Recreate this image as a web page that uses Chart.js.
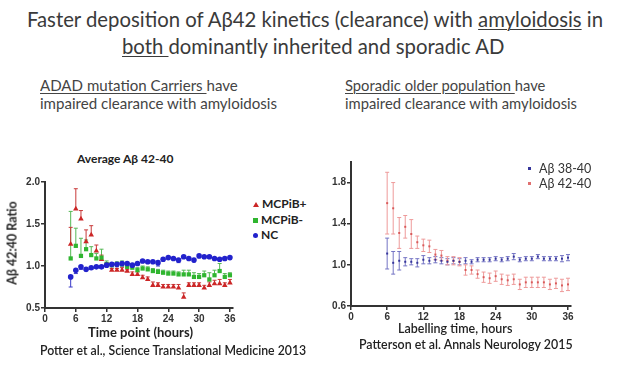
<!DOCTYPE html>
<html><head><meta charset="utf-8">
<script src="https://cdn.jsdelivr.net/npm/chart.js@4.4.1/dist/chart.umd.min.js"></script>
<style>
html,body{margin:0;padding:0;background:#fff;}
body{width:627px;height:366px;position:relative;overflow:hidden;}
.t{position:absolute;white-space:nowrap;color:#333;transform-origin:left top;}
.h{font-family:Lato,"Open Sans",sans-serif;font-size:21px;line-height:21px;color:#3a3a3a;}
.s{font-family:Lato,"Open Sans",sans-serif;font-size:15px;line-height:15px;color:#444;}
.b{font-family:Lato,"Open Sans",sans-serif;font-weight:700;color:#222;}
u{text-decoration-thickness:1px;text-underline-offset:2px;}
canvas{position:absolute;}
.lg{position:absolute;font-family:Lato,sans-serif;white-space:nowrap;}
</style>
</head><body>
<div class="t h" id="h1" style="left:27px;top:8px;">Faster deposition of Aβ42 kinetics (clearance) with <u>amyloidosis</u> in</div>
<div class="t h" id="h2" style="left:122px;top:35px;"><u>both </u>dominantly inherited and sporadic AD</div>
<div class="t s" id="s1" style="left:40px;top:78px;"><u>ADAD mutation Carriers </u>have</div>
<div class="t s" id="s2" style="left:40px;top:96px;">impaired clearance with amyloidosis</div>
<div class="t s" id="s3" style="left:345px;top:78px;"><u>Sporadic older population </u>have</div>
<div class="t s" id="s4" style="left:345px;top:96px;">impaired clearance with amyloidosis</div>

<canvas id="c1" width="240" height="160" style="left:0;top:170px;"></canvas>
<canvas id="c2" width="256" height="178" style="left:320px;top:150px;"></canvas>

<div class="t b" style="left:77px;top:151px;font-size:12px;">Average Aβ 42-40</div>
<div class="t b" style="left:12px;top:243px;font-size:12.5px;transform:translate(-50%,-50%) rotate(-90deg);transform-origin:center;">Aβ 42:40 Ratio</div>
<div class="t b" style="left:88px;top:324px;font-size:13px;">Time point (hours)</div>
<div class="t b" style="left:40px;top:343px;font-size:12.3px;font-weight:600;">Potter et al., Science Translational Medicine 2013</div>
<div class="t b" style="left:398px;top:321px;font-size:12.5px;font-weight:600;">Labelling time, hours</div>
<div class="t b" style="left:359px;top:337px;font-size:12.4px;font-weight:600;">Patterson et al. Annals Neurology 2015</div>

<div class="lg" style="left:253px;top:196px;font-size:12px;font-weight:700;color:#222;line-height:15.5px;">
<div><span style="display:inline-block;width:0;height:0;border-left:3px solid transparent;border-right:3px solid transparent;border-bottom:5px solid #cc2626;margin-right:3px;vertical-align:1px;"></span>MCPiB+</div>
<div><span style="display:inline-block;width:5px;height:5px;background:#2fb52f;margin-right:3px;vertical-align:1px;"></span>MCPiB-</div>
<div><span style="display:inline-block;width:5px;height:5px;border-radius:50%;background:#2222cc;margin-right:3px;vertical-align:1px;"></span>NC</div>
</div>
<div class="lg" style="left:528px;top:161px;font-size:12.5px;color:#333;line-height:15px;">
<div><span style="display:inline-block;width:3px;height:3px;background:#35359a;margin-right:8px;vertical-align:3px;"></span>Aβ 38-40</div>
<div><span style="display:inline-block;width:3px;height:3px;background:#e07070;margin-right:8px;vertical-align:3px;"></span>Aβ 42-40</div>
</div>

<script>
// ---------- data ----------
const hoursLeft = [5,6,7,8,9,10,11,12,13,14,15,16,17,18,19,20,21,22,23,24,25,26,27,28,29,30,31,32,33,34,35,36];
const mcpibPlus = [1.26,1.68,1.56,1.29,1.37,1.18,1.08,1.01,0.95,0.95,0.95,0.94,0.90,0.90,0.86,0.84,0.77,0.77,0.75,0.75,0.75,0.74,0.63,0.77,0.77,0.77,0.74,0.77,0.79,0.79,0.77,0.80];
const mcpibPlusErr = [0.20,0.24,0.10,0.14,0.11,0.07,0.05,0.03,0.02,0.02,0.03,0.02,0.03,0.03,0.03,0.03,0.04,0.03,0.03,0.03,0.03,0.04,0.05,0.03,0.03,0.03,0.03,0.04,0.04,0.05,0.03,0.04];
const mcpibMinus = [1.09,1.24,1.12,1.20,1.13,1.09,1.10,1.02,1.01,1.02,1.02,0.99,0.98,0.95,0.97,0.96,0.94,0.93,0.92,0.91,0.91,0.90,0.90,0.90,0.87,0.87,0.89,0.84,0.89,0.94,0.87,0.89];
const mcpibMinusErr = [0.56,0.21,0.21,0.11,0.10,0.06,0.10,0.04,0.03,0.03,0.04,0.03,0.03,0.03,0.03,0.03,0.03,0.03,0.03,0.03,0.03,0.03,0.05,0.05,0.05,0.04,0.05,0.08,0.06,0.09,0.04,0.03];
const ncValues = [0.87,0.95,0.99,0.96,0.98,0.99,0.99,1.01,1.02,1.02,1.03,1.03,1.01,1.03,1.06,1.05,1.05,1.04,1.08,1.10,1.09,1.07,1.11,1.09,1.07,1.12,1.11,1.11,1.09,1.08,1.09,1.10];
const ncErr = [0.12,0.04,0.03,0.02,0.02,0.02,0.02,0.02,0.03,0.03,0.03,0.02,0.02,0.02,0.02,0.02,0.02,0.04,0.02,0.02,0.02,0.03,0.02,0.02,0.02,0.02,0.02,0.02,0.02,0.02,0.02,0.02];

const hoursRight = [6,7,8,9,10,11,12,13,14,15,16,17,18,19,20,21,22,23,24,25,26,27,28,29,30,31,32,33,34,35,36];
const ab4240 = [1.60,1.55,1.31,1.37,1.30,1.22,1.19,1.18,1.10,1.09,1.04,1.04,1.03,0.95,0.95,0.91,0.88,0.87,0.89,0.86,0.85,0.86,0.81,0.83,0.83,0.83,0.83,0.81,0.82,0.80,0.81];
const ab4240Err = [0.30,0.25,0.15,0.11,0.14,0.06,0.06,0.06,0.05,0.05,0.04,0.04,0.04,0.05,0.04,0.04,0.05,0.05,0.05,0.05,0.05,0.05,0.05,0.05,0.05,0.05,0.05,0.05,0.05,0.06,0.06];
const ab3840 = [1.11,1.02,1.04,1.03,1.03,1.02,1.05,1.04,1.05,1.04,1.03,1.04,1.03,1.04,1.03,1.05,1.05,1.05,1.06,1.05,1.06,1.08,1.05,1.06,1.06,1.08,1.06,1.06,1.06,1.06,1.07];
const ab3840Err = [0.15,0.11,0.09,0.04,0.03,0.04,0.04,0.03,0.03,0.03,0.03,0.03,0.03,0.03,0.02,0.02,0.02,0.02,0.02,0.02,0.02,0.03,0.02,0.02,0.02,0.02,0.02,0.02,0.02,0.03,0.03];

const xTickValues = [0,6,12,18,24,30,36];
const yTicksLeft = [0.5,1.0,1.5,2.0];
const yTicksRight = [0.6,1.0,1.4,1.8];

// ---------- text fitting ----------
function fit(ids, target){
  const els = ids.map(i=>document.getElementById(i));
  const w = els[0].getBoundingClientRect().width;
  const k = target / w;
  els.forEach(e=>e.style.transform='scaleX('+k+')');
}
fit(['h1','h2'], 576);
fit(['s2','s1'], 237);
fit(['s4','s3'], 232);

// ---------- error bar plugin ----------
const errorBars = {
  id:'errorBars',
  beforeDatasetsDraw(chart){
    const {ctx, scales:{x,y}} = chart;
    chart.data.datasets.forEach(ds=>{
      if(!ds.errors) return;
      ctx.save();
      ctx.strokeStyle = ds.errorColor; ctx.lineWidth = ds.errorWidth || 1;
      ds.data.forEach((p,j)=>{
        const e = ds.errors[j];
        const px = x.getPixelForValue(p.x);
        const y0 = y.getPixelForValue(p.y);
        const dirs = ds.errorDir==='both' ? [1,-1] : [ds.errorDir==='up'?1:-1];
        dirs.forEach(d=>{
          const y1 = y.getPixelForValue(p.y + d*e);
          ctx.beginPath();
          ctx.moveTo(px,y0); ctx.lineTo(px,y1);
          ctx.moveTo(px-ds.capW,y1); ctx.lineTo(px+ds.capW,y1);
          ctx.stroke();
        });
      });
      ctx.restore();
    });
  }
};

function pts(xs, ys){ return xs.map((h,i)=>({x:h,y:ys[i]})); }

function axes(xMax, yMin, yMax, yTicks, yWidth){
  const common = {
    grid:{display:true,drawOnChartArea:false,drawTicks:true,tickLength:4,color:'#333',lineWidth:1.5},
    border:{display:true,color:'#333',width:2},
  };
  return {
    x:{type:'linear',min:0,max:xMax,...common,
       afterBuildTicks:s=>{s.ticks=xTickValues.map(v=>({value:v}));},
       afterFit:s=>{s.height=22;},
       ticks:{autoSkip:false,maxRotation:0,padding:1,color:'#333',font:{family:'Liberation Sans',weight:'bold',size:10}}},
    y:{type:'linear',min:yMin,max:yMax,...common,
       afterBuildTicks:s=>{s.ticks=yTicks.map(v=>({value:v}));},
       afterFit:s=>{s.width=yWidth;},
       ticks:{padding:1,color:'#333',font:{family:'Liberation Sans',weight:'bold',size:10},callback:v=>Number(v).toFixed(1)}}
  };
}

const baseOpts = {responsive:false,animation:false,devicePixelRatio:1,
  plugins:{legend:{display:false},tooltip:{enabled:false}}};

new Chart(document.getElementById('c1'),{
  type:'scatter',
  data:{datasets:[
    {label:'NC',data:pts(hoursLeft,ncValues),errors:ncErr,errorDir:'down',errorColor:'#3b3bc8',capW:2,
     pointStyle:'circle',pointRadius:2.8,backgroundColor:'#2222cc',borderColor:'#2222cc',borderWidth:0},
    {label:'MCPiB-',data:pts(hoursLeft,mcpibMinus),errors:mcpibMinusErr,errorDir:'up',errorColor:'#55b855',capW:2,
     pointStyle:'rect',pointRadius:3,backgroundColor:'#2fb52f',borderColor:'#2fb52f',borderWidth:0},
    {label:'MCPiB+',data:pts(hoursLeft,mcpibPlus),errors:mcpibPlusErr,errorDir:'up',errorColor:'#c83a3a',capW:2,
     pointStyle:'triangle',pointRadius:3.2,backgroundColor:'#cc2626',borderColor:'#cc2626',borderWidth:0}
  ]},
  options:{...baseOpts,layout:{padding:{top:12,right:7,left:0,bottom:0}},
    scales:axes(36.6,0.5,2.0,yTicksLeft,45)},
  plugins:[errorBars]
});

new Chart(document.getElementById('c2'),{
  type:'scatter',
  data:{datasets:[
    {label:'Aβ 38-40',data:pts(hoursRight,ab3840),errors:ab3840Err,errorDir:'both',errorColor:'#7474c4',capW:2,
     pointStyle:'rect',pointRadius:1.4,backgroundColor:'#35359a',borderColor:'#35359a',borderWidth:0},
    {label:'Aβ 42-40',data:pts(hoursRight,ab4240),errors:ab4240Err,errorDir:'both',errorColor:'#ee9a9a',capW:2,
     pointStyle:'rect',pointRadius:1.4,backgroundColor:'#d85a5a',borderColor:'#d85a5a',borderWidth:0}
  ]},
  options:{...baseOpts,layout:{padding:{top:12,right:5,left:0,bottom:0}},
    scales:axes(36.5,0.6,2.0,yTicksRight,31)},
  plugins:[errorBars]
});
</script>
</body></html>
